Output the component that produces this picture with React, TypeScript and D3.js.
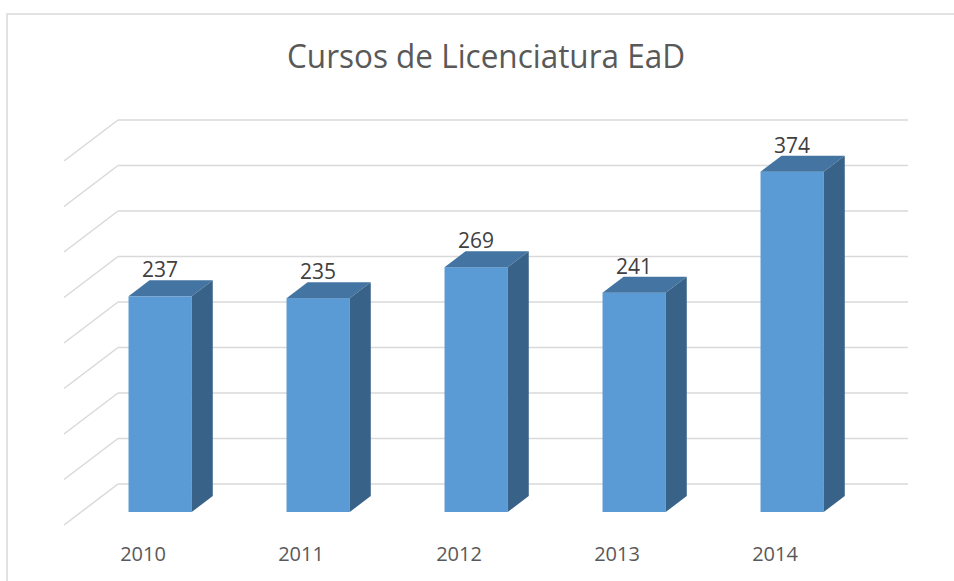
import React from "react";
import * as d3 from "d3";

// chart data
const years = ["2010", "2011", "2012", "2013", "2014"];
const cursos = [237, 235, 269, 241, 374];
const gridValues = [0, 50, 100, 150, 200, 250, 300, 350, 400];

const W = 954;
const H = 581;

// oblique 3D box: front floor edge and the depth vector toward the back wall
const FRONT_X0 = 64;
const FRONT_X1 = 854;
const FRONT_Y = 525;
const DEPTH_DX = 54;
const DEPTH_DY = -41;
const BAR_T0 = 0.317; // depth fraction of bar front face
const BAR_T1 = 0.707; // depth fraction of bar back face

const GRID = "#d9d9d9";

export default function App() {
  const x = d3.scaleBand<string>().domain(years).range([FRONT_X0, FRONT_X1]);
  const h = d3.scaleLinear().domain([0, 400]).range([0, 364]);

  const backY0 = FRONT_Y + DEPTH_DY; // value 0 on back wall
  const backX0 = FRONT_X0 + DEPTH_DX;
  const backX1 = FRONT_X1 + DEPTH_DX;

  const fx = DEPTH_DX * BAR_T0;
  const fy = DEPTH_DY * BAR_T0;
  const dx = DEPTH_DX * (BAR_T1 - BAR_T0);
  const dy = DEPTH_DY * (BAR_T1 - BAR_T0);
  const barW = x.bandwidth() * 0.4;

  const font = "'Open Sans', 'DejaVu Sans', sans-serif";

  return (
    <svg
      width={W}
      height={H}
      style={{ position: "absolute", left: 0, top: 0, display: "block", background: "white" }}
    >
      <rect x={7} y={14} width={W} height={H} fill="white" stroke={GRID} strokeWidth={1.5} />

      <text
        x={486}
        y={68}
        textAnchor="middle"
        fontFamily={font}
        fontSize={32}
        fill="#595959"
        textLength={398}
        lengthAdjust="spacingAndGlyphs"
      >
        Cursos de Licenciatura EaD
      </text>

      {/* back wall gridlines + left wall diagonals */}
      {gridValues.map((v) => {
        const yb = backY0 - h(v);
        return (
          <g key={v} stroke={GRID} strokeWidth={1.5} fill="none">
            <line x1={backX0} x2={backX1} y1={yb} y2={yb} />
            <line x1={backX0} y1={yb} x2={FRONT_X0} y2={yb - DEPTH_DY} />
          </g>
        );
      })}

      {/* 3D bars */}
      {years.map((yr, i) => {
        const v = cursos[i];
        const cx = (x(yr) ?? 0) + x.bandwidth() / 2 + fx;
        const x0 = cx - barW / 2;
        const x1 = cx + barW / 2;
        const yBot = FRONT_Y + fy;
        const yTop = yBot - h(v);
        const top = [
          [x0, yTop],
          [x1, yTop],
          [x1 + dx, yTop + dy],
          [x0 + dx, yTop + dy],
        ];
        const side = [
          [x1, yTop],
          [x1 + dx, yTop + dy],
          [x1 + dx, yBot + dy],
          [x1, yBot],
        ];
        const pts = (p: number[][]) => p.map((d) => d.join(",")).join(" ");
        return (
          <g key={yr}>
            <rect x={x0} y={yTop} width={barW} height={h(v)} fill="#5b9bd5" />
            <polygon points={pts(top)} fill="#4374a2" />
            <polygon points={pts(side)} fill="#386287" />
            <text
              x={cx}
              y={yTop + dy - 3}
              textAnchor="middle"
              fontFamily={font}
              fontSize={21}
              fill="#404040"
            >
              {v}
            </text>
          </g>
        );
      })}

      {/* category labels */}
      {years.map((yr) => (
        <text
          key={yr}
          x={(x(yr) ?? 0) + x.bandwidth() / 2}
          y={561}
          textAnchor="middle"
          fontFamily={font}
          fontSize={20}
          fill="#595959"
        >
          {yr}
        </text>
      ))}
    </svg>
  );
}
